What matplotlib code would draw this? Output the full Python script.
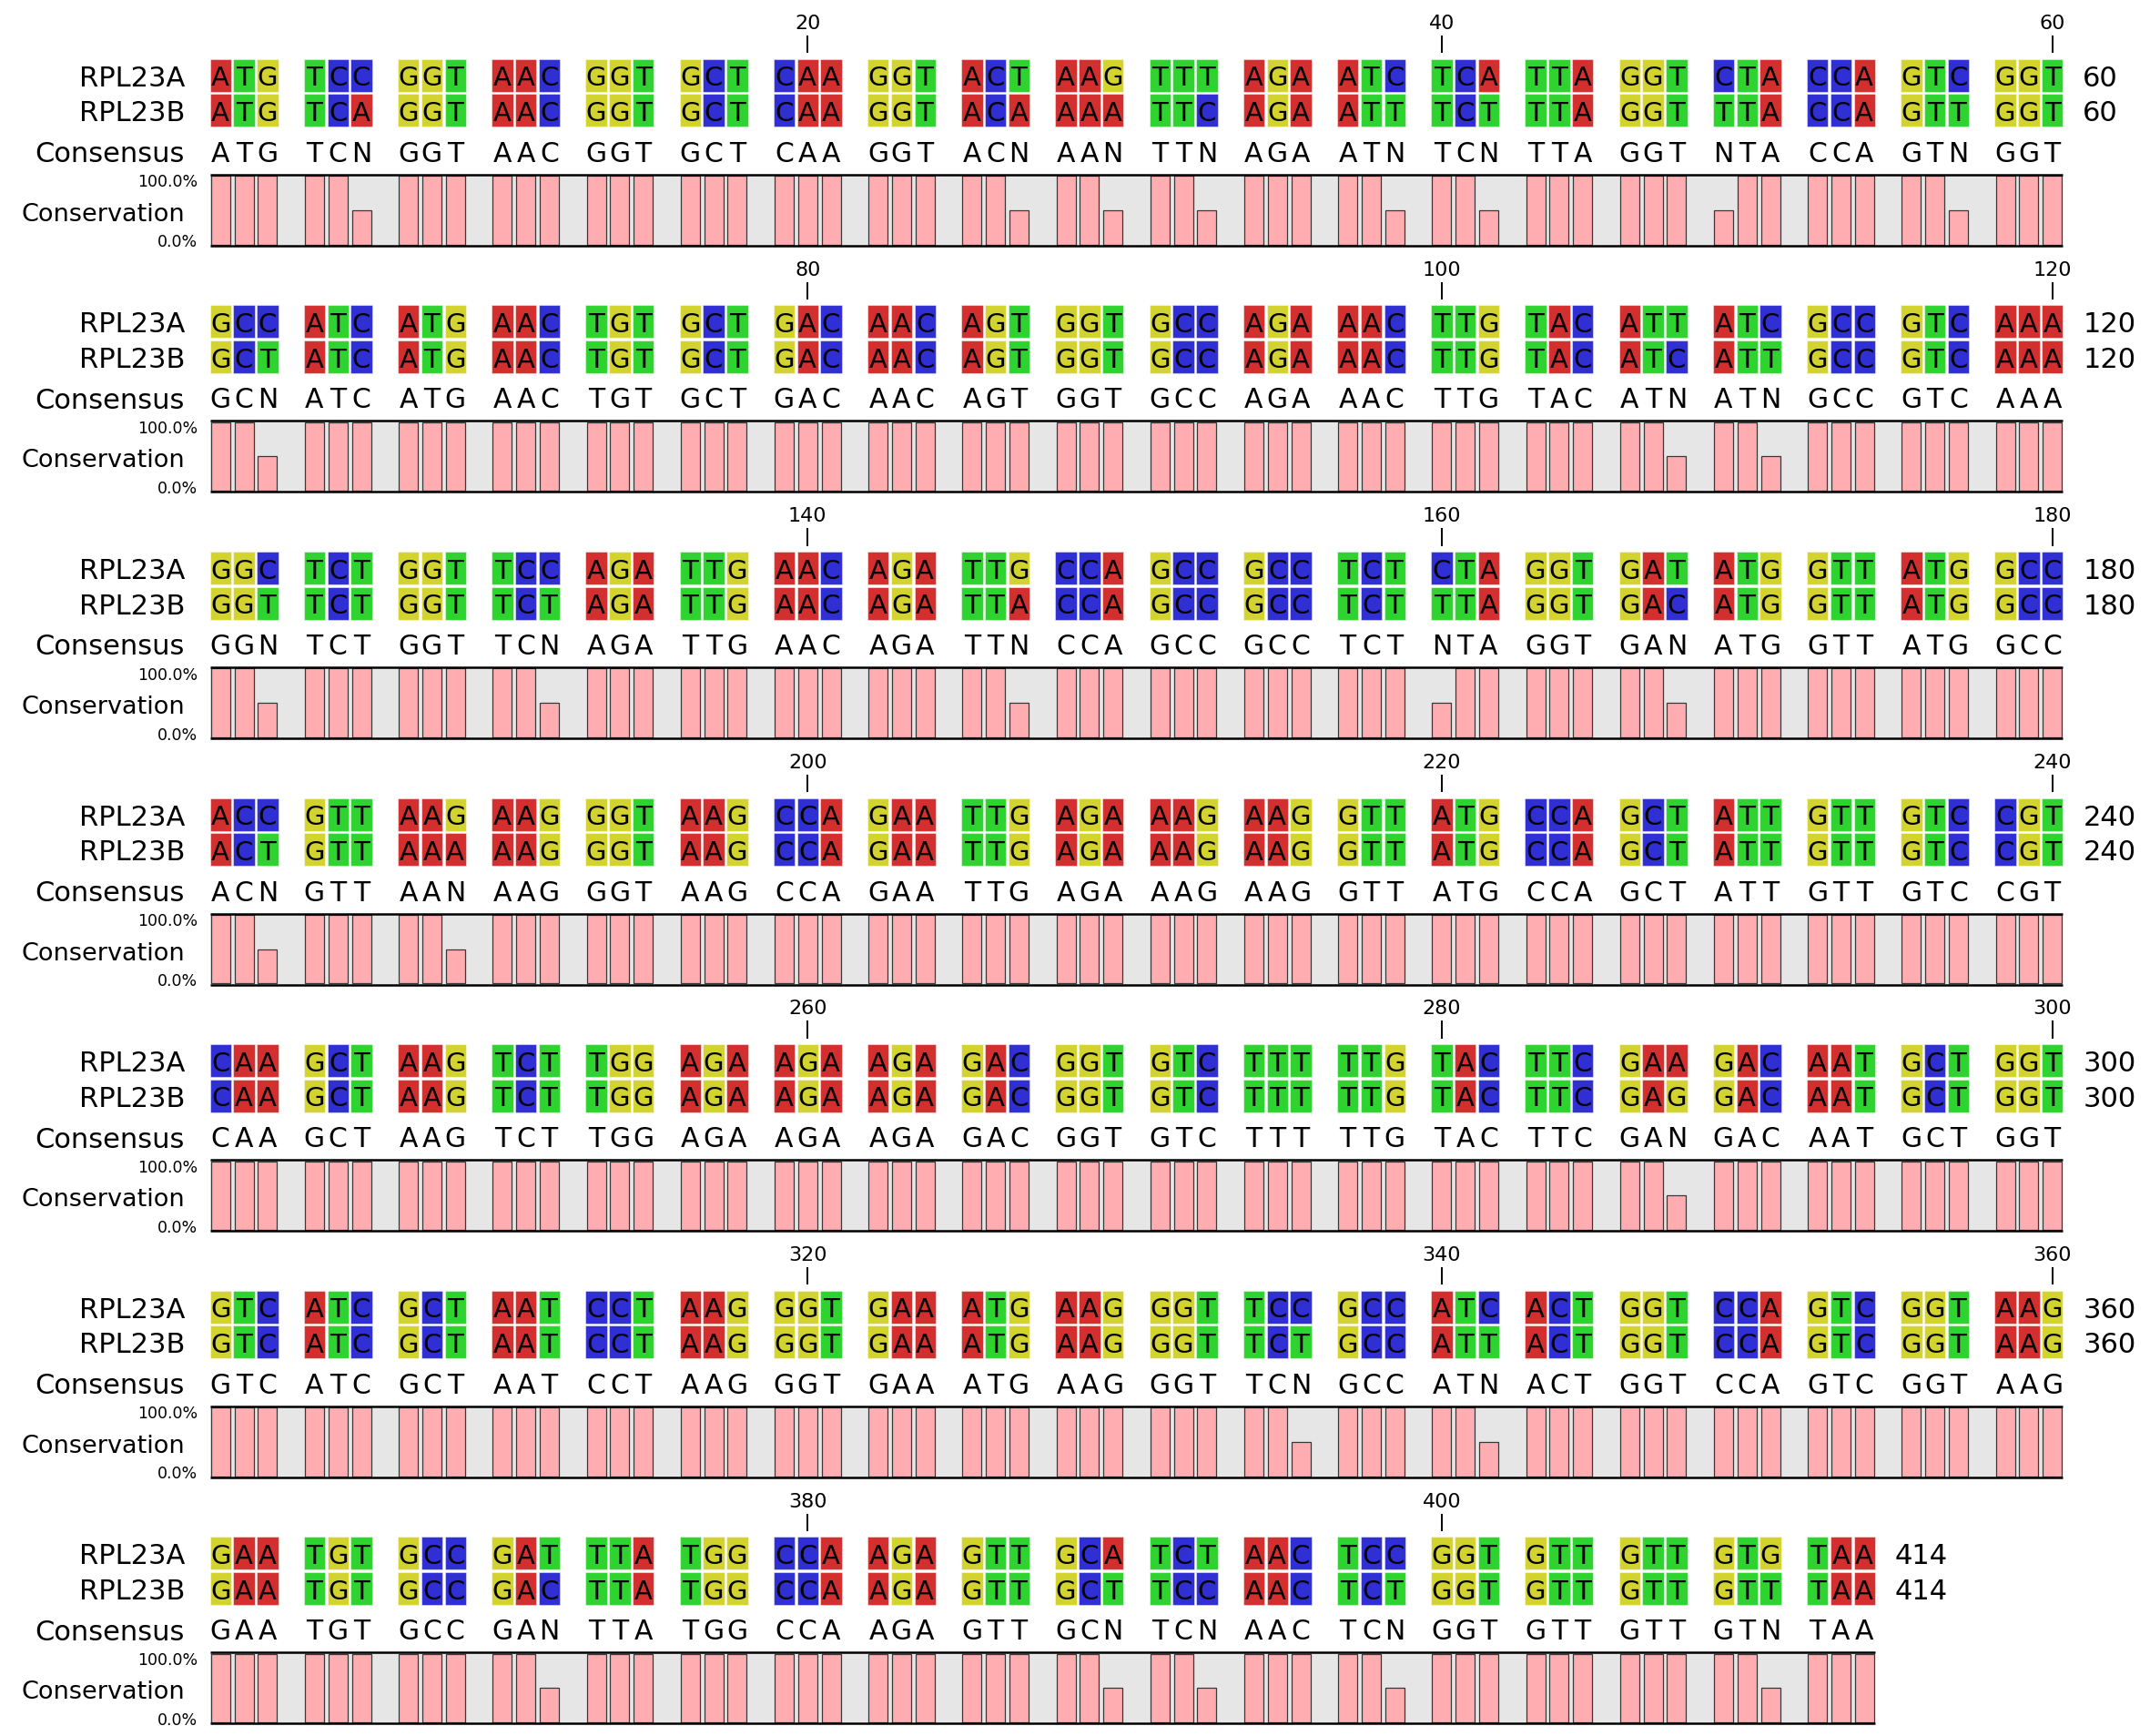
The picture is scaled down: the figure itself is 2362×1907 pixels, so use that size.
import matplotlib
matplotlib.use('Agg')
import matplotlib.pyplot as plt
from matplotlib.patches import Rectangle

names = ['RPL23A', 'RPL23B']

rpl23a_rows = [
    'ATGTCCGGTAACGGTGCTCAAGGTACTAAGTTTAGAATCTCATTAGGTCTACCAGTCGGT',
    'GCCATCATGAACTGTGCTGACAACAGTGGTGCCAGAAACTTGTACATTATCGCCGTCAAA',
    'GGCTCTGGTTCCAGATTGAACAGATTGCCAGCCGCCTCTCTAGGTGATATGGTTATGGCC',
    'ACCGTTAAGAAGGGTAAGCCAGAATTGAGAAAGAAGGTTATGCCAGCTATTGTTGTCCGT',
    'CAAGCTAAGTCTTGGAGAAGAAGAGACGGTGTCTTTTTGTACTTCGAAGACAATGCTGGT',
    'GTCATCGCTAATCCTAAGGGTGAAATGAAGGGTTCCGCCATCACTGGTCCAGTCGGTAAG',
    'GAATGTGCCGATTTATGGCCAAGAGTTGCATCTAACTCCGGTGTTGTTGTGTAA',
]
rpl23b_rows = [
    'ATGTCAGGTAACGGTGCTCAAGGTACAAAATTCAGAATTTCTTTAGGTTTACCAGTTGGT',
    'GCTATCATGAACTGTGCTGACAACAGTGGTGCCAGAAACTTGTACATCATTGCCGTCAAA',
    'GGTTCTGGTTCTAGATTGAACAGATTACCAGCCGCCTCTTTAGGTGACATGGTTATGGCC',
    'ACTGTTAAAAAGGGTAAGCCAGAATTGAGAAAGAAGGTTATGCCAGCTATTGTTGTCCGT',
    'CAAGCTAAGTCTTGGAGAAGAAGAGACGGTGTCTTTTTGTACTTCGAGGACAATGCTGGT',
    'GTCATCGCTAATCCTAAGGGTGAAATGAAGGGTTCTGCCATTACTGGTCCAGTCGGTAAG',
    'GAATGTGCCGACTTATGGCCAAGAGTTGCTTCCAACTCTGGTGTTGTTGTTTAA',
]

seqs = [''.join(rpl23a_rows), ''.join(rpl23b_rows)]
row_len = 60
tick_step = 20
base_colors = {'A': '#d32f2f', 'C': '#2f2fd3', 'G': '#d3d32f', 'T': '#2fd32f'}

consensus = ''.join(a if a == b else 'N' for a, b in zip(*seqs))
conservation = [100.0 if a == b else 50.0 for a, b in zip(*seqs)]

# layout in pixels (figure is 2362 x 1908 at dpi 100)
DPI = 100
X0 = 230.5
PITCH = 25.8
CELL_W = 23.4
CELL_H = 36.0
ROW_PITCH = 38.6
Y0 = 65.7
BLOCK_H = 270.6
CONS_Y = 101.3
BOX_TOP = 127.0
BOX_BOT = 205.0
LABEL_X = 203
PCT_X = 217

fig = plt.figure(figsize=(23.62, 19.08), dpi=DPI)
ax = fig.add_axes([0, 0, 1, 1])
ax.set_xlim(0, 2362)
ax.set_ylim(1908, 0)
ax.axis('off')

font = 'DejaVu Sans'


def put_text(x, yc, s, size, ha='center'):
    # place caps so their visual centre sits on yc
    cap = 0.729 * size * DPI / 72
    ax.text(x, yc + cap / 2, s, fontsize=size, ha=ha, va='baseline', family=font)


def col_x(i):
    return X0 + (i + i // 3) * PITCH


n = len(seqs[0])
n_blocks = (n + row_len - 1) // row_len

for b in range(n_blocks):
    start = b * row_len
    end = min(start + row_len, n)
    top = Y0 + b * BLOCK_H
    xs = [col_x(k - start) for k in range(start, end)]
    right = xs[-1] + CELL_W

    # position ticks
    for p in range(start + 1, end + 1):
        if p % tick_step == 0:
            xc = col_x(p - 1 - start) + CELL_W / 2
            ax.vlines(xc, top - 25.7, top - 6.4, color='black', lw=1.4)
            put_text(xc, top - 41.7, str(p), 16)

    # sequence rows
    for r, seq in enumerate(seqs):
        y = top + r * ROW_PITCH
        chunk = seq[start:end]
        ax.bar(xs, CELL_H, width=CELL_W, bottom=y, align='edge',
               color=[base_colors[c] for c in chunk],
               edgecolor=(1, 1, 1, 0.45), linewidth=0.8)
        for x, ch in zip(xs, chunk):
            put_text(x + CELL_W / 2, y + CELL_H / 2, ch, 21)
        put_text(LABEL_X, y + CELL_H / 2, names[r], 22, ha='right')
        put_text(right + 22, y + CELL_H / 2, str(end), 22, ha='left')

    # consensus
    for x, ch in zip(xs, consensus[start:end]):
        put_text(x + CELL_W / 2, top + CONS_Y, ch, 21.5)
    put_text(LABEL_X, top + CONS_Y, 'Consensus', 22, ha='right')

    # conservation track
    ax.add_patch(Rectangle((xs[0], top + BOX_TOP), right - xs[0], BOX_BOT - BOX_TOP,
                           facecolor='#e6e6e6', edgecolor='none'))
    full_h = (BOX_BOT - 1.2) - (BOX_TOP + 1.5)
    heights = [-full_h * v / 100.0 for v in conservation[start:end]]
    ax.bar([x + 1.2 for x in xs], heights, width=21.0, bottom=top + BOX_BOT - 1.2,
           align='edge', color='#ffadb0', edgecolor='#383838', linewidth=0.9)
    ax.hlines([top + BOX_TOP, top + BOX_BOT], xs[0], right, color='black', lw=1.8)
    put_text(LABEL_X, top + 167.3, 'Conservation', 19.5, ha='right')
    put_text(PCT_X, top + 133.3, '100.0%', 12.5, ha='right')
    put_text(PCT_X, top + 199.3, '0.0%', 12.5, ha='right')

fig.savefig('out.png', dpi=DPI)
